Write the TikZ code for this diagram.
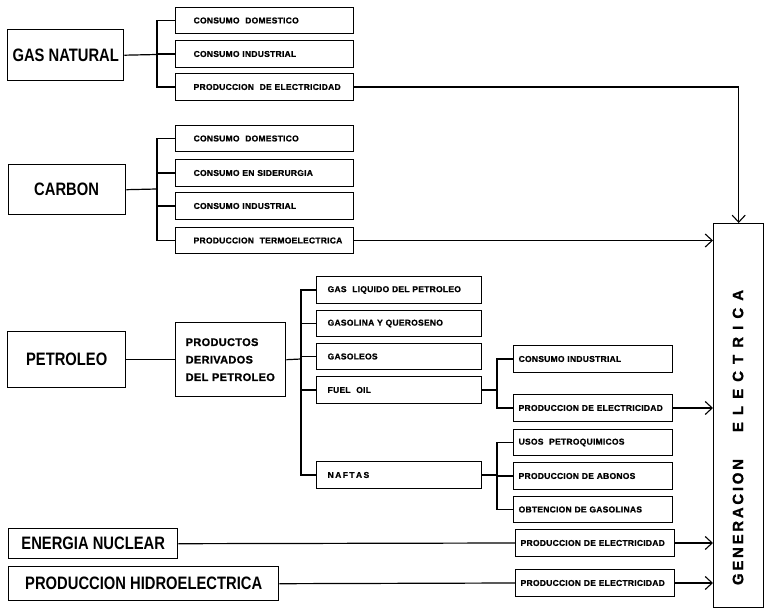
\documentclass[tikz,border=0pt]{standalone}
\usepackage{fontspec}
\setmainfont{Liberation Sans}
\newfontfamily\bigf{Liberation Sans}[FakeStretch=0.82]
\newfontfamily\smallf{Liberation Sans}[LetterSpace=3,FakeBold=1]
\newfontfamily\genf{Liberation Sans}[LetterSpace=18,FakeBold=1]
\newfontfamily\genfb{Liberation Sans}[LetterSpace=47,FakeBold=1]
\usetikzlibrary{arrows.meta}
\begin{document}
\begin{tikzpicture}[x=1pt,y=-1pt,
  line width=1.2pt,
  arr/.style={-{Straight Barb[length=7pt,width=13pt,line width=1.1pt]}},
  bigbox/.style={draw,line width=1.4pt,font=\bigf\bfseries\fontsize{18}{20}\selectfont,inner xsep=0pt,inner ysep=0pt,anchor=north west},
  sbox/.style={draw,line width=1.3pt,font=\smallf\bfseries\fontsize{8.5}{10}\selectfont,align=left,minimum height=26.5pt,inner ysep=0pt,anchor=west},
  gbox/.style={sbox,text width=142pt,inner xsep=18pt},
  mbox/.style={sbox,text width=143pt,inner xsep=11pt},
  rbox/.style={sbox,text width=149pt,inner xsep=5pt},
  gtext/.style={rotate=90,font=\genf\bfseries\fontsize{15}{17}\selectfont}]
\useasboundingbox (0,0) rectangle (766,609);

% ---------- GAS NATURAL ----------
\node[bigbox,minimum width=116pt,minimum height=51pt] (gn) at (7,29) {GAS NATURAL};
\node[gbox] (g1) at (175,20.5) {\mbox{CONSUMO\ \ DOMESTICO}};
\node[gbox] (g2) at (175,54) {\mbox{CONSUMO\ INDUSTRIAL}};
\node[gbox] (g3) at (175,87) {\mbox{PRODUCCION\ \ DE\ ELECTRICIDAD}};
\coordinate (jg) at (157,54.5);
\draw (gn.east) -- (jg);
\draw (g1.west) -| (jg) |- (g3.west);
\draw (g2.west) -- (g2.west -| jg);

% ---------- CARBON ----------
\node[bigbox,minimum width=117pt,minimum height=50pt,text width=100pt,inner xsep=0pt,align=left] (cb) at (8,164) {\hspace*{17pt}CARBON};
\node[gbox] (c1) at (175,138.5) {\mbox{CONSUMO\ \ DOMESTICO}};
\node[gbox] (c2) at (175,173) {\mbox{CONSUMO\ EN\ SIDERURGIA}};
\node[gbox] (c3) at (175,206) {\mbox{CONSUMO\ INDUSTRIAL}};
\node[gbox] (c4) at (175,240.5) {\mbox{PRODUCCION\ \ TERMOELECTRICA}};
\coordinate (jc) at (157,189);
\draw (cb.east) -- (jc);
\draw (c1.west) -| (jc) |- (c4.west);
\draw (c2.west) -- (c2.west -| jc);
\draw (c3.west) -- (c3.west -| jc);

% ---------- PETROLEO ----------
\node[bigbox,minimum width=118pt,minimum height=56pt] (pt) at (7,331) {PETROLEO};
\node[draw,line width=1.4pt,anchor=north west,minimum width=110pt,minimum height=74pt,
  text width=90pt,inner xsep=10pt,align=left,
  font=\smallf\bfseries\fontsize{11}{17.5}\selectfont] (pd) at (175,322) {PRODUCTOS\\DERIVADOS\\DEL PETROLEO};
\node[mbox] (p1) at (316,290) {\mbox{GAS\ \ LIQUIDO DEL PETROLEO}};
\node[mbox] (p2) at (316,323.5) {\mbox{GASOLINA\ Y\ QUEROSENO}};
\node[mbox] (p3) at (316,356.5) {\mbox{GASOLEOS}};
\node[mbox] (p4) at (316,390) {\mbox{FUEL\ \ OIL}};
\node[mbox] (p5) at (316,475) {\mbox{N\,A\,F\,T\,A\,S}};
\coordinate (jp) at (301,359);
\draw (pt.east) -- (pd.west);
\draw (pd.east) -- (jp);
\draw (p1.west) -| (jp) |- (p5.west);
\draw (p2.west) -- (p2.west -| jp);
\draw (p3.west) -- (p3.west -| jp);
\draw (p4.west) -- (p4.west -| jp);

% fuel oil
\node[rbox] (f1) at (513,359) {\mbox{CONSUMO\ INDUSTRIAL}};
\node[rbox] (f2) at (513,408) {\mbox{PRODUCCION DE ELECTRICIDAD}};
\coordinate (jf) at (497,390);
\draw (p4.east) -- (jf);
\draw (f1.west) -| (jf) |- (f2.west);

% naftas
\node[rbox] (n1) at (513,442.5) {\mbox{USOS\ \ PETROQUIMICOS}};
\node[rbox] (n2) at (513,476) {\mbox{PRODUCCION DE ABONOS}};
\node[rbox] (n3) at (513,509.5) {\mbox{OBTENCION DE GASOLINAS}};
\coordinate (jn) at (497,475);
\draw (p5.east) -- (jn);
\draw (n1.west) -| (jn) |- (n3.west);
\draw (n2.west) -- (n2.west -| jn);

% ---------- NUCLEAR / HIDRO ----------
\node[bigbox,minimum width=169pt,minimum height=30pt] (en) at (8,528) {ENERGIA NUCLEAR};
\node[rbox] (e1) at (515,543) {\mbox{PRODUCCION DE ELECTRICIDAD}};
\draw (en.east) -- (e1.west);
\node[bigbox,minimum width=270pt,minimum height=34pt] (hi) at (8,566) {PRODUCCION HIDROELECTRICA};
\node[rbox] (h1) at (515,583) {\mbox{PRODUCCION DE ELECTRICIDAD}};
\draw (hi.east) -- (h1.west);

% ---------- GENERACION ELECTRICA ----------
\node[draw,line width=1.4pt,anchor=north west,minimum width=50pt,minimum height=384pt] (gen) at (713,223) {};
\node[gtext] (gt1) at (738,522) {GENERACION};
\node[gtext,font=\genfb\bfseries\fontsize{15}{17}\selectfont] (gt2) at (738,361) {ELECTRICA};

% ---------- arrows to GENERACION ----------
\draw[arr] (g3.east) -| (gen.north);
\draw[arr] (c4.east) -- (c4.east -| gen.west);
\draw[arr] (f2.east) -- (f2.east -| gen.west);
\draw[arr] (e1.east) -- (e1.east -| gen.west);
\draw[arr] (h1.east) -- (h1.east -| gen.west);
\end{tikzpicture}
\end{document}
